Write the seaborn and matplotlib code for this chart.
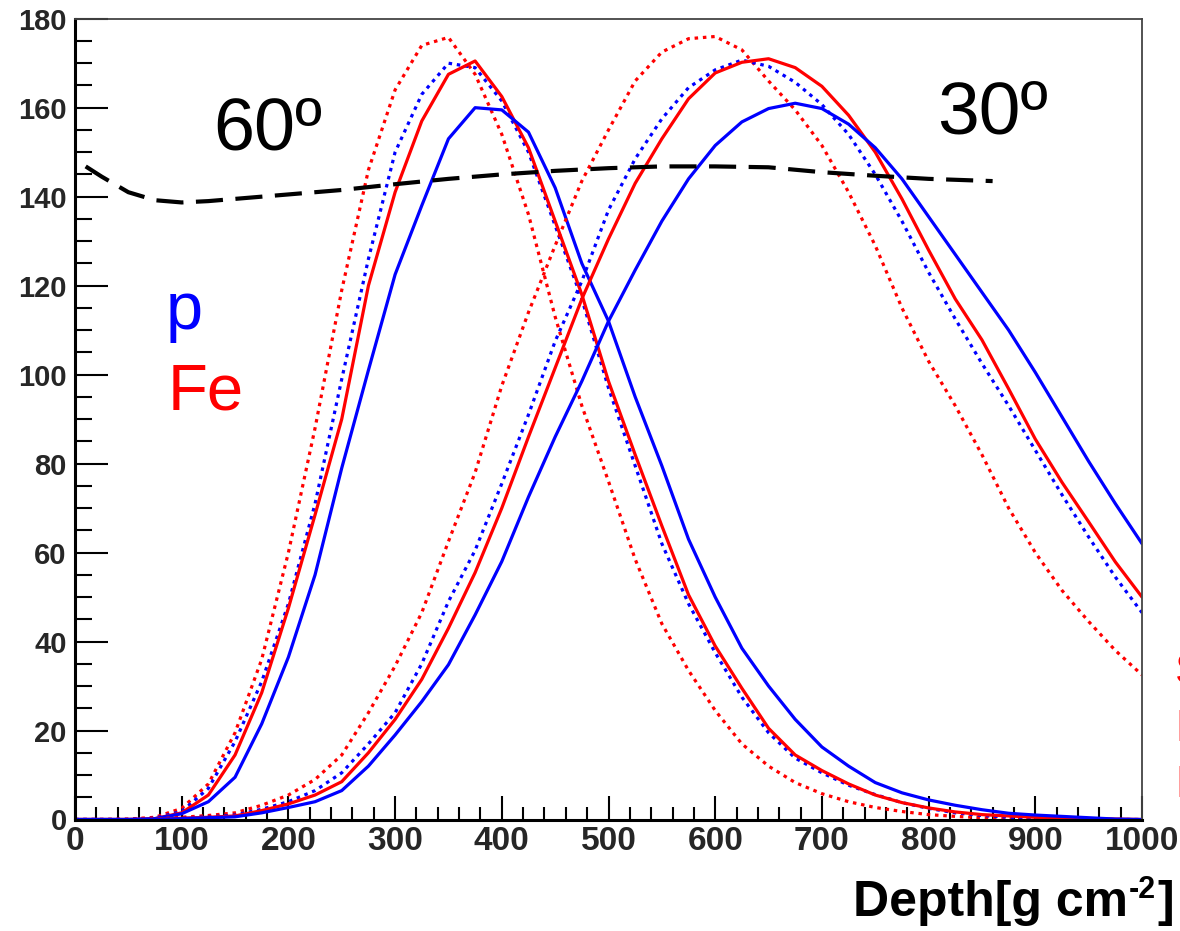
import numpy as np
import pandas as pd
import matplotlib
matplotlib.use("Agg")
import matplotlib.pyplot as plt
from matplotlib.ticker import MultipleLocator, FixedLocator
import seaborn as sns

# ---------------- data ----------------
depth = [0, 25, 50, 75, 100, 125, 150, 175, 200, 225,
         250, 275, 300, 325, 350, 375, 400, 425, 450, 475,
         500, 525, 550, 575, 600, 625, 650, 675, 700, 725,
         750, 775, 800, 825, 850, 875, 900, 925, 950, 975, 1000]

# 60 degrees
fe60_dot = [0, 0, 0.1, 0.5, 2.5, 8, 19.5, 36, 60, 88,
            119, 146, 164, 174, 175.8, 167.5, 154, 136, 113, 93,
            76, 58.5, 44, 33.5, 24.5, 17, 12, 8.3, 5.8, 4,
            2.7, 1.8, 1.1, 0.7, 0.4, 0.2, 0.1, 0, 0, 0, 0]
p60_dot = [0, 0, 0, 0.3, 1.8, 7, 17.5, 31, 48.5, 71,
           99, 126, 150, 163, 170, 169, 161.5, 150, 133.5, 117,
           97, 79.5, 62, 48.5, 37.5, 27.5, 19.5, 13.8, 10.5, 7.7,
           5.6, 3.8, 2.5, 1.5, 0.9, 0.5, 0.3, 0.1, 0, 0, 0]
fe60_sol = [0, 0, 0, 0.2, 1.5, 5.5, 14.5, 28.5, 47.5, 68.5,
            90, 120, 141, 157, 167.5, 170.5, 162.5, 151, 134.5, 118,
            98.5, 82, 66, 50.5, 39, 29.5, 20.5, 14.5, 11, 8,
            5.5, 3.8, 2.6, 1.7, 1.1, 0.8, 0.5, 0.3, 0.2, 0.1, 0]
p60_sol = [0, 0, 0, 0.2, 1.3, 4, 9.5, 21.5, 36.5, 55,
           79, 101, 122.5, 138, 153, 160, 159.5, 154.5, 142, 125,
           112, 95, 79.5, 63, 50, 38.5, 30, 22.5, 16.3, 12,
           8.3, 6, 4.4, 3.2, 2.2, 1.4, 1, 0.7, 0.4, 0.1, 0]

# 30 degrees
fe30_dot = [0, 0, 0, 0.1, 0.5, 0.9, 1.5, 3.2, 5.5, 9,
            14.5, 24, 34.5, 46.5, 62.5, 78, 97.5, 114, 129, 143.5,
            155, 166, 172.5, 175.5, 176, 173, 166, 159.5, 151.5, 141,
            129, 115, 103, 93, 82, 70, 60, 51.5, 44.5, 38, 32.5]
p30_dot = [0, 0, 0, 0, 0.3, 0.6, 1, 2.3, 4, 6.5,
           10.5, 17, 24, 35, 49, 60.5, 75.5, 91, 107.5, 121,
           137, 148.5, 157.5, 164.5, 168.5, 170.7, 169.3, 165.7, 160.7, 154,
           145, 134.5, 123, 112.5, 102.5, 93, 83, 73, 63.5, 54.5, 46.5]
fe30_sol = [0, 0, 0, 0, 0.3, 0.5, 0.8, 2, 3.5, 5.5,
            8.5, 15, 22.5, 31.5, 43, 55.5, 70, 86, 101.5, 117,
            130.5, 143, 153, 162, 167.8, 170.2, 171, 169, 164.8, 158.3,
            150, 139.5, 128, 117, 107.8, 96.8, 85.5, 75.8, 66.9, 57.9, 50]
p30_sol = [0, 0, 0, 0, 0.2, 0.4, 0.6, 1.5, 2.7, 4,
           6.5, 12, 19, 26.5, 34.8, 46, 58, 72.5, 86, 98.5,
           112, 123.5, 134.5, 144, 151.5, 156.8, 159.8, 161, 159.8, 156.3,
           151, 144, 135.5, 127, 118.5, 110, 100.5, 90.5, 80.5, 71, 62]

# black dashed curve
dash_depth = [10, 25, 50, 75, 100, 125, 150, 200, 250, 300, 350,
              400, 450, 500, 550, 600, 650, 700, 750, 800, 860]
dash_vals = [146.8, 144.5, 141, 139.2, 138.7, 139, 139.5, 140.5, 141.5, 142.8, 144,
             145, 145.8, 146.4, 146.8, 146.8, 146.6, 145.5, 144.7, 144, 143.5]

curve_names = ["fe60_dot", "p60_dot", "fe60_sol", "p60_sol",
               "fe30_dot", "p30_dot", "fe30_sol", "p30_sol"]
curve_vals = [fe60_dot, p60_dot, fe60_sol, p60_sol,
              fe30_dot, p30_dot, fe30_sol, p30_sol]

x_ticks = [0, 100, 200, 300, 400, 500, 600, 700, 800, 900, 1000]
y_ticks = [0, 20, 40, 60, 80, 100, 120, 140, 160, 180]

# ---------------- styling ----------------
sns.set_style("ticks")
plt.rcParams['font.family'] = ['Liberation Sans', 'DejaVu Sans']

W, H = 1180, 931
fig = plt.figure(figsize=(W / 100, H / 100), dpi=100)
fig.patch.set_facecolor("white")
x0, x1, yb, yt = 75, 1142, 819.5, 18.7
ax = fig.add_axes([x0 / W, 1 - yb / H, (x1 - x0) / W, (yb - yt) / H])
ax.set_facecolor("white")

rows = []
for name, vals in zip(curve_names, curve_vals):
    for d, v in zip(depth, vals):
        rows.append((name, d, v))
df = pd.DataFrame(rows, columns=["curve", "depth", "value"])

palette = {n: ("red" if n.startswith("fe") else "blue") for n in curve_names}
dot = (1.1, 1.5)
dashes = {n: (dot if n.endswith("dot") else "") for n in curve_names}

sns.lineplot(data=df, x="depth", y="value", hue="curve", style="curve",
             palette=palette, dashes=dashes, linewidth=2.3, legend=False,
             estimator=None, ax=ax)

ddf = pd.DataFrame({"depth": dash_depth, "value": dash_vals})
sns.lineplot(data=ddf, x="depth", y="value", color="black", linewidth=3.0,
             estimator=None, ax=ax)
ax.lines[-1].set_dashes((6.5, 3.0))

for ln in ax.lines:
    ln.set_solid_joinstyle("round")

ax.set_xlim(0, 1000)
ax.set_ylim(0, 180)
ax.set_xlabel("")
ax.set_ylabel("")
ax.xaxis.set_major_locator(FixedLocator(x_ticks))
ax.yaxis.set_major_locator(FixedLocator(y_ticks))
ax.xaxis.set_minor_locator(MultipleLocator(20))
ax.yaxis.set_minor_locator(MultipleLocator(5))
ax.set_xticklabels([str(t) for t in x_ticks])
ax.set_yticklabels([str(t) for t in y_ticks])

ax.tick_params(axis="both", which="both", direction="in", top=False, right=False,
               color="black", width=1.5)
ax.tick_params(axis="y", which="major", length=24, labelsize=21, pad=6)
ax.tick_params(axis="y", which="minor", length=12.5)
ax.tick_params(axis="x", which="major", length=17, labelsize=24, pad=5)
ax.tick_params(axis="x", which="minor", length=9.5)
for lab in ax.get_xticklabels() + ax.get_yticklabels():
    lab.set_fontweight("bold")

for s in ["left", "bottom"]:
    ax.spines[s].set_visible(True)
    ax.spines[s].set_linewidth(2.2)
    ax.spines[s].set_color("black")
for s in ["top", "right"]:
    ax.spines[s].set_visible(True)
    ax.spines[s].set_linewidth(1.3)
    ax.spines[s].set_color("#444444")


def ftext(px, py, s, **kw):
    return fig.text(px / W, 1 - py / H, s, **kw)


ftext(213, 149, "60º", fontsize=53, color="black", va="baseline", ha="left")
ftext(937, 134, "30º", fontsize=54, color="black", va="baseline", ha="left")
ftext(166, 329, "p", fontsize=48, color="blue", va="baseline", ha="left")
ftext(168, 409, "Fe", fontsize=47, color="red", va="baseline", ha="left")

# partially visible red labels at the right border (cut off as in the original)
ftext(1175, 684, "S", fontsize=32, color="red", va="baseline", ha="left")
ftext(1175, 741, "E", fontsize=32, color="red", va="baseline", ha="left")
ftext(1175, 797, "E", fontsize=32, color="red", va="baseline", ha="left")

# x-axis title "Depth[g cm-2]" built from pieces, right aligned
renderer = fig.canvas.get_renderer()
right_px = 1174
base_py = 916
t3 = ftext(right_px, base_py, "]", fontsize=36, fontweight="bold",
           color="black", va="baseline", ha="right")
bb3 = t3.get_window_extent(renderer)
sup_right = bb3.x0 - 1
t2 = fig.text(sup_right / W, (H - base_py + 18) / H, "-2", fontsize=22,
              fontweight="bold", color="black", va="baseline", ha="right")
bb2 = t2.get_window_extent(renderer)
t1 = fig.text((bb2.x0 - 1) / W, 1 - base_py / H, "Depth[g cm", fontsize=36,
              fontweight="bold", color="black", va="baseline", ha="right")

fig.savefig("out.png", dpi=100, facecolor="white")
